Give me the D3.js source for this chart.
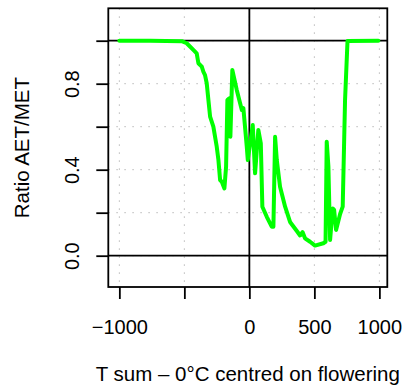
<!DOCTYPE html>
<html>
<head>
<meta charset="utf-8">
<script src="https://cdn.jsdelivr.net/npm/d3@7"></script>
<style>
  html, body { margin: 0; padding: 0; background: #fff; }
  svg { display: block; font-family: "Liberation Sans", Arial, Helvetica, sans-serif; }
</style>
</head>
<body>
<svg id="chart" width="410" height="390"></svg>
<script>
// Data
const tsum = [-1000, -764, -520, -482, -431, -405, -392, -366, -354, -341, -328, -315, -302, -277, -251, -238, -225, -212, -192, -179, -169, -154, -146, -131, -97, -58, -46, -20, -12, 26, 44, 69, 88, 100, 134, 172, 185, 198, 211, 236, 275, 313, 365, 390, 409, 428, 467, 505, 569, 586, 595, 608, 621, 641, 652, 667, 698, 718, 736, 755, 992];
const ratio = [1.0, 1.0, 0.998, 0.988, 0.957, 0.941, 0.895, 0.879, 0.856, 0.840, 0.802, 0.724, 0.647, 0.600, 0.507, 0.445, 0.352, 0.344, 0.313, 0.414, 0.724, 0.732, 0.553, 0.864, 0.771, 0.678, 0.686, 0.507, 0.445, 0.608, 0.383, 0.585, 0.523, 0.228, 0.181, 0.135, 0.135, 0.553, 0.445, 0.321, 0.228, 0.157, 0.115, 0.094, 0.110, 0.081, 0.065, 0.047, 0.058, 0.065, 0.530, 0.414, 0.073, 0.220, 0.213, 0.120, 0.194, 0.228, 0.724, 0.999, 1.0];
const xTicks = [-1000, -500, 0, 500, 1000];
const xTickLabels = ["\u22121000", "", "0", "500", "1000"];
const yTicks = [0, 0.2, 0.4, 0.6, 0.8, 1.0];
const yTickLabels = ["0.0", "", "0.4", "", "0.8", ""];
const xTitle = "T sum \u2013 0\u00B0C centred on flowering";
const yTitle = "Ratio AET/MET";

const svg = d3.select("#chart");
const L = 108.3, R = 387.3, T = 8.3, B = 287;

const x = d3.scaleLinear().domain([-1085, 1061]).range([L, R]);
const y = d3.scaleLinear().domain([-0.1456, 1.1507]).range([B, T]);

// grid
const grid = svg.append("g").attr("stroke", "#bdbdbd").attr("stroke-width", 1).attr("stroke-dasharray", "1.6,6.4");
grid.selectAll("line.gx").data(xTicks).enter().append("line")
  .attr("x1", d => x(d)).attr("x2", d => x(d)).attr("y1", T).attr("y2", B);
grid.selectAll("line.gy").data(yTicks).enter().append("line")
  .attr("y1", d => y(d)).attr("y2", d => y(d)).attr("x1", L).attr("x2", R);

// reference lines
const ref = svg.append("g").attr("stroke", "#000").attr("stroke-width", 1.8);
ref.append("line").attr("x1", L).attr("x2", R).attr("y1", y(0)).attr("y2", y(0));
ref.append("line").attr("x1", L).attr("x2", R).attr("y1", y(1)).attr("y2", y(1));
ref.append("line").attr("x1", x(0)).attr("x2", x(0)).attr("y1", T).attr("y2", B);

// data line
const line = d3.line().x((d, i) => x(tsum[i])).y((d, i) => y(ratio[i]));
svg.append("path").datum(ratio).attr("d", line)
  .attr("fill", "none").attr("stroke", "#00ff00").attr("stroke-width", 4)
  .attr("stroke-linejoin", "round").attr("stroke-linecap", "round");

// box
svg.append("rect").attr("x", L).attr("y", T).attr("width", R - L).attr("height", B - T)
  .attr("fill", "none").attr("stroke", "#000").attr("stroke-width", 1.8);

// axes
const xAxis = d3.axisBottom(x).tickValues(xTicks).tickSize(12)
  .tickFormat((d, i) => xTickLabels[i]);
const gx = svg.append("g").attr("transform", `translate(0,${B})`).call(xAxis);
gx.select(".domain").remove();
gx.selectAll("line").attr("stroke", "#000").attr("stroke-width", 1.8);
gx.selectAll("text").attr("font-size", 20).attr("fill", "#000")
  .attr("font-family", "Liberation Sans, Arial, sans-serif")
  .attr("y", 40).attr("dy", null).attr("dominant-baseline", "central");

const yAxis = d3.axisLeft(y).tickValues(yTicks).tickSize(12).tickFormat((d, i) => yTickLabels[i]);
const gy = svg.append("g").attr("transform", `translate(${L},0)`).call(yAxis);
gy.select(".domain").remove();
gy.selectAll("line").attr("stroke", "#000").attr("stroke-width", 1.8);
gy.selectAll("text").attr("font-size", 20).attr("fill", "#000")
  .attr("font-family", "Liberation Sans, Arial, sans-serif")
  .attr("x", null).attr("dy", null)
  .attr("text-anchor", "middle")
  .attr("transform", "translate(-36,0) rotate(-90)")
  .attr("y", 0).attr("dominant-baseline", "central");

// titles
svg.append("text").attr("x", (L + R) / 2).attr("y", 373).attr("text-anchor", "middle")
  .attr("dominant-baseline", "central").attr("font-size", 20.5).attr("fill", "#000").text(xTitle);
svg.append("text").attr("transform", `translate(21,${(T + B) / 2}) rotate(-90)`)
  .attr("text-anchor", "middle").attr("dominant-baseline", "central")
  .attr("font-size", 20.5).attr("fill", "#000").text(yTitle);
</script>
</body>
</html>
